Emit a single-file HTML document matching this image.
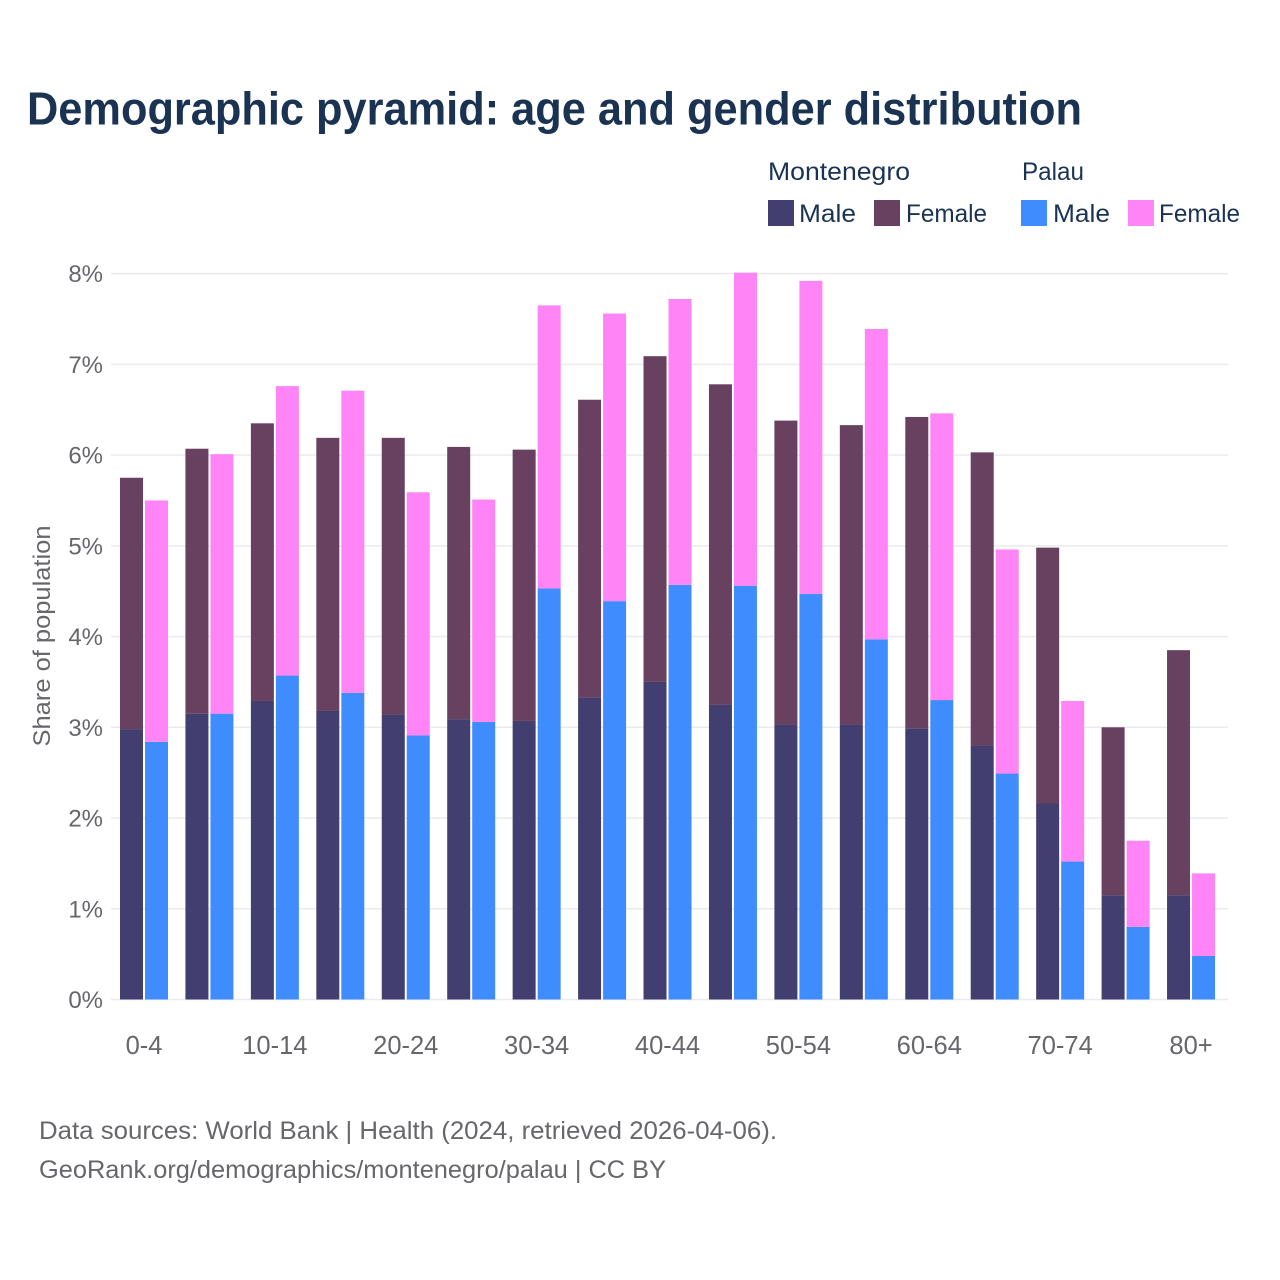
<!DOCTYPE html>
<html lang="en">
<head>
<meta charset="utf-8">
<title>Demographic pyramid</title>
<style>
html,body{margin:0;padding:0;background:#fff;}
svg{display:block;}
text{font-family:"Liberation Sans",sans-serif;}
</style>
</head>
<body>
<svg id="chart" xmlns="http://www.w3.org/2000/svg" width="1280" height="1280" viewBox="0 0 1280 1280">
<rect x="0" y="0" width="1280" height="1280" fill="#ffffff"/>
<text x="27" y="124.5" font-size="46" font-weight="700" fill="#1a3353" textLength="1055" lengthAdjust="spacingAndGlyphs">Demographic pyramid: age and gender distribution</text>
<g font-size="25" fill="#1a3353">
<text x="768" y="180" textLength="142" lengthAdjust="spacingAndGlyphs">Montenegro</text>
<text x="1022" y="180" textLength="62" lengthAdjust="spacingAndGlyphs">Palau</text>
<rect x="768" y="200" width="26" height="26" fill="#433e70"/>
<text x="799" y="222" textLength="57" lengthAdjust="spacingAndGlyphs">Male</text>
<rect x="874" y="200" width="26" height="26" fill="#684160"/>
<text x="906" y="222" textLength="81" lengthAdjust="spacingAndGlyphs">Female</text>
<rect x="1021" y="200" width="26" height="26" fill="#3f8cff"/>
<text x="1053" y="222" textLength="57" lengthAdjust="spacingAndGlyphs">Male</text>
<rect x="1128" y="200" width="26" height="26" fill="#ff85f7"/>
<text x="1159" y="222" textLength="81" lengthAdjust="spacingAndGlyphs">Female</text>
</g>
<g id="grid"></g>
<g id="yticks"></g>
<g id="bars"></g>
<g id="xticks"></g>
<text transform="translate(50,636) rotate(-90)" text-anchor="middle" font-size="24" fill="#66666b" textLength="221" lengthAdjust="spacingAndGlyphs">Share of population</text>
<text x="39" y="1139" font-size="25" fill="#66666b" textLength="738" lengthAdjust="spacingAndGlyphs">Data sources: World Bank | Health (2024, retrieved 2026-04-06).</text>
<text x="39" y="1178" font-size="25" fill="#66666b" textLength="627" lengthAdjust="spacingAndGlyphs">GeoRank.org/demographics/montenegro/palau | CC BY</text>
</svg>
<script>
const ageGroups = ['0-4','5-9','10-14','15-19','20-24','25-29','30-34','35-39','40-44','45-49','50-54','55-59','60-64','65-69','70-74','75-79','80+'];
const montenegroMale = [2.98,3.15,3.29,3.18,3.14,3.09,3.07,3.33,3.50,3.25,3.03,3.03,2.99,2.80,2.16,1.15,1.15];
const montenegroFemale = [2.77,2.92,3.06,3.01,3.05,3.00,2.99,3.28,3.59,3.53,3.35,3.30,3.43,3.23,2.82,1.85,2.70];
const palauMale = [2.84,3.15,3.57,3.38,2.91,3.06,4.53,4.39,4.57,4.56,4.47,3.97,3.30,2.49,1.52,0.80,0.48];
const palauFemale = [2.66,2.86,3.19,3.33,2.68,2.45,3.12,3.17,3.15,3.45,3.45,3.42,3.16,2.47,1.77,0.95,0.91];
const yTicks = [0,1,2,3,4,5,6,7,8];

const NS = 'http://www.w3.org/2000/svg';
const PLOT_LEFT = 111, PLOT_RIGHT = 1228, Y0 = 999.5, Y8 = 273.6;
const BAND_START = 120, BAND_STEP = 65.44, BAR_W = 23, BAR_GAP = 25;
const yScale = v => Y0 - (v / 8) * (Y0 - Y8);
const xScale = i => BAND_START + i * BAND_STEP;

const gridG = document.getElementById('grid');
const yG = document.getElementById('yticks');
const barsG = document.getElementById('bars');
const xG = document.getElementById('xticks');

yTicks.forEach(t => {
  const line = document.createElementNS(NS, 'line');
  
  
  line.setAttribute('x1', PLOT_LEFT);
  line.setAttribute('x2', PLOT_RIGHT);
  line.setAttribute('y1', yScale(t));
  line.setAttribute('y2', yScale(t));
  line.setAttribute('stroke', '#ebebef');
  line.setAttribute('stroke-width', '1.5');
  gridG.appendChild(line);
  const label = document.createElementNS(NS, 'text');
  
  
  label.setAttribute('x', 103);
  label.setAttribute('y', yScale(t) + 8.5);
  label.setAttribute('text-anchor', 'end');
  label.setAttribute('font-size', '24');
  label.setAttribute('fill', '#66666b');
  label.textContent = t + '%';
  yG.appendChild(label);
});

function addBar(x, base, value, color) {
  const r = document.createElementNS(NS, 'rect');
  
  
  r.setAttribute('x', x);
  r.setAttribute('y', yScale(base + value));
  r.setAttribute('width', BAR_W);
  r.setAttribute('height', yScale(base) - yScale(base + value));
  r.setAttribute('fill', color);
  barsG.appendChild(r);
}

ageGroups.forEach((age, i) => {
  const x = xScale(i);
  addBar(x, 0, montenegroMale[i], '#433e70');
  addBar(x, montenegroMale[i], montenegroFemale[i], '#684160');
  addBar(x + BAR_GAP, 0, palauMale[i], '#3f8cff');
  addBar(x + BAR_GAP, palauMale[i], palauFemale[i], '#ff85f7');
  if (i % 2 === 0) {
    const label = document.createElementNS(NS, 'text');
    
    
    label.setAttribute('x', x + 24);
    label.setAttribute('y', 1054);
    label.setAttribute('text-anchor', 'middle');
    label.setAttribute('font-size', '25.5');
    label.setAttribute('fill', '#66666b');
    label.textContent = age;
    xG.appendChild(label);
  }
});
</script>
</body>
</html>
